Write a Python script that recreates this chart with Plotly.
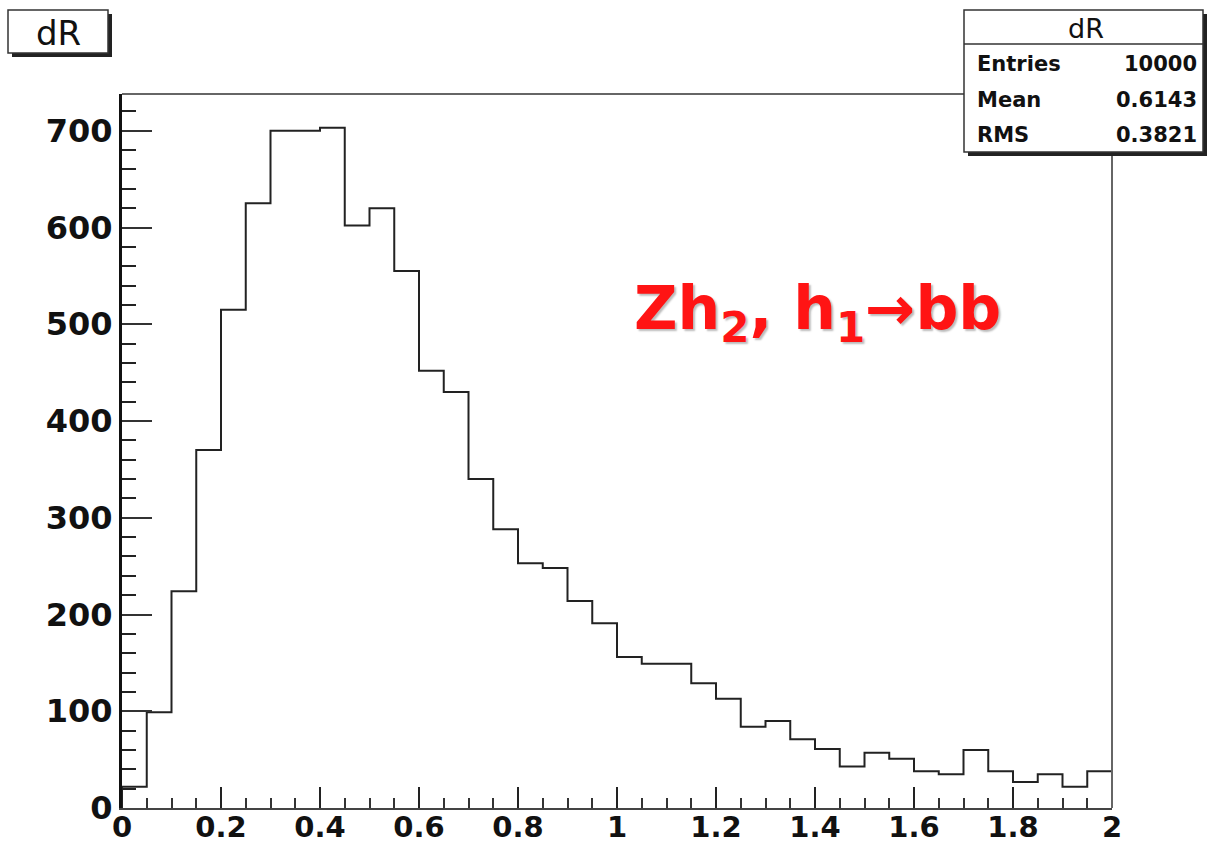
import plotly.graph_objects as go

# ---- data ----
bin_low = 0.0
bin_width = 0.05
counts = [22, 99, 224, 370, 515, 625, 700, 700, 703, 602,
          620, 555, 452, 430, 340, 288, 253, 248, 214, 191,
          156, 149, 149, 129, 113, 84, 90, 71, 61, 43,
          57, 51, 38, 35, 60, 38, 27, 35, 22, 38]
hist_title = "dR"
stat_names = ["Entries", "Mean", "RMS"]
stat_values = ["10000", "0.6143", "0.3821"]
label_text = "Zh<sub>2</sub>, h<sub>1</sub>→bb"

edges = [round(bin_low + i * bin_width, 4) for i in range(len(counts) + 1)]
xs = [edges[0]] + edges
ys = [0] + counts + [counts[-1]]

W, H = 1208, 843
L, R, T, B = 122, 1112, 94, 808


def px(x):
    return (x - L) / (R - L)


def py(y):
    return (B - y) / (B - T)


fig = go.Figure()
fig.add_trace(go.Scatter(x=xs, y=ys, mode="lines", line=dict(shape="hv", color="#222", width=2),
                         hoverinfo="skip", showlegend=False))

tickfont = dict(family="DejaVu Sans", size=32, color="#111", weight="bold")

fig.update_layout(
    width=W, height=H,
    margin=dict(l=L, r=W - R, t=T, b=H - B),
    paper_bgcolor="white", plot_bgcolor="white",
    xaxis=dict(range=[0, 2], showgrid=False, zeroline=False, showline=True, linecolor="#444", linewidth=2,
               ticks="inside", ticklen=21, tickwidth=2, tickcolor="#222", dtick=0.2, tick0=0,
               minor=dict(ticks="inside", ticklen=10, tickwidth=2, tickcolor="#333", dtick=0.05, showgrid=False),
               tickfont=dict(family="DejaVu Sans", size=29, color="#111", weight="bold"),
               automargin=False, ticklabelstandoff=-8),
    yaxis=dict(range=[0, 738], showgrid=False, zeroline=False, showline=True, linecolor="#111", linewidth=3,
               ticks="inside", ticklen=30, tickwidth=2, tickcolor="#333", dtick=100, tick0=0,
               minor=dict(ticks="inside", ticklen=14, tickwidth=2, tickcolor="#222", dtick=20, showgrid=False),
               tickfont=tickfont, ticklabelstandoff=0, automargin=False),
)

shapes = []
# top/right frame
shapes.append(dict(type="line", xref="paper", yref="paper", x0=0, x1=1, y0=1, y1=1,
                   line=dict(color="#666", width=2)))
shapes.append(dict(type="line", xref="paper", yref="paper", x0=1, x1=1, y0=0, y1=1,
                   line=dict(color="#666", width=2)))


def box(x0, y0, x1, y1):
    # shadow then box
    shapes.append(dict(type="rect", xref="paper", yref="paper", x0=px(x0 + 4), x1=px(x1 + 4),
                       y0=py(y1 + 4), y1=py(y0 + 4), fillcolor="#222", line=dict(width=0)))
    shapes.append(dict(type="rect", xref="paper", yref="paper", x0=px(x0), x1=px(x1),
                       y0=py(y1), y1=py(y0), fillcolor="white", line=dict(color="#333", width=1.5)))


box(8, 10, 108, 53)
box(964, 10, 1203, 152)
shapes.append(dict(type="line", xref="paper", yref="paper", x0=px(964), x1=px(1203), y0=py(44), y1=py(44),
                   line=dict(color="#333", width=1.5)))
fig.update_layout(shapes=shapes)

ann = []
ann.append(dict(x=px(58), y=py(33), xref="paper", yref="paper", text=hist_title, showarrow=False,
                font=dict(family="DejaVu Sans", size=34, color="#111"), xanchor="center", yanchor="middle"))
ann.append(dict(x=px(1086), y=py(28), xref="paper", yref="paper", text=hist_title, showarrow=False,
                font=dict(family="DejaVu Sans", size=27, color="#111"), xanchor="center", yanchor="middle"))
row_y = [64, 100, 135]
for name, val, yy in zip(stat_names, stat_values, row_y):
    ann.append(dict(x=px(975), y=py(yy), xref="paper", yref="paper", text=name, showarrow=False,
                    font=dict(family="DejaVu Sans", size=21, color="#111", weight="bold"),
                    xanchor="left", yanchor="middle"))
    ann.append(dict(x=px(1199), y=py(yy), xref="paper", yref="paper", text=val, showarrow=False,
                    font=dict(family="DejaVu Sans", size=21, color="#111", weight="bold"),
                    xanchor="right", yanchor="middle"))
ann.append(dict(x=px(817), y=py(312), xref="paper", yref="paper", text=label_text, showarrow=False,
                font=dict(family="DejaVu Sans", size=60, color="#ff1414", weight="bold",
                          shadow="2px 2px 2px #bbb"),
                xanchor="center", yanchor="middle"))
fig.update_layout(annotations=ann)

fig.write_html("out.html")
